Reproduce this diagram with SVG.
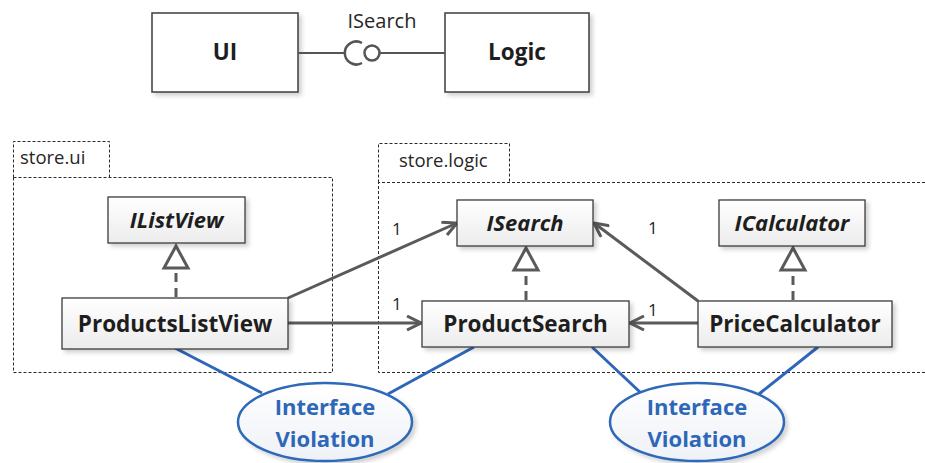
<svg xmlns="http://www.w3.org/2000/svg" width="925" height="463" viewBox="0 0 925 463">
  <style>
    .box { fill: url(#boxFill); stroke: #3c3c3c; stroke-width: 1.3; filter: url(#shadow); }
    .big { fill: #fff; stroke: #3c3c3c; stroke-width: 1.5; filter: url(#shadow); }
    .pkg { fill: none; stroke: #2a2a2a; stroke-width: 1; stroke-dasharray: 3 2; }
    .lbl { font-family: "Open Sans", "Liberation Sans", sans-serif; fill: #262626; }
    .name { font-family: "Open Sans", "Liberation Sans", sans-serif; font-weight: bold; fill: #1e1e1e; text-anchor: middle; font-size: 22.5px; }
    .iface { font-style: italic; font-size: 22px; }
    .assoc { fill: none; stroke: #5a5a5a; stroke-width: 3; }
    .real { fill: none; stroke: #5a5a5a; stroke-width: 3; stroke-dasharray: 9 6; }
    .tri { fill: #fff; stroke: #5a5a5a; stroke-width: 3; stroke-linejoin: miter; }
    .note { stroke: #2f67b8; stroke-width: 3; fill: none; }
    .bubble { fill: url(#noteFill); stroke: #2f67b8; stroke-width: 2.5; filter: url(#shadow); }
    .noteText { font-family: "Open Sans", "Liberation Sans", sans-serif; font-weight: bold; fill: #2f67b8; text-anchor: middle; font-size: 22px; }
  </style>
  <defs>
    <linearGradient id="boxFill" x1="0" y1="0" x2="0" y2="1">
      <stop offset="0" stop-color="#ffffff"/>
      <stop offset="1" stop-color="#ececec"/>
    </linearGradient>
    <linearGradient id="noteFill" x1="0" y1="0" x2="0" y2="1">
      <stop offset="0" stop-color="#ffffff"/>
      <stop offset="1" stop-color="#eef1f6"/>
    </linearGradient>
    <filter id="shadow" x="-10%" y="-10%" width="125%" height="135%">
      <feDropShadow dx="3" dy="3" stdDeviation="2" flood-color="#000" flood-opacity="0.18"/>
    </filter>
    <marker id="open" viewBox="0 0 16 16" refX="15" refY="8" markerWidth="16" markerHeight="16" markerUnits="userSpaceOnUse" orient="auto">
      <path d="M1 1 L15 8 L1 15" fill="none" stroke="#5a5a5a" stroke-width="3"/>
    </marker>
  </defs>

  <!-- component view -->
  <g id="UI">
    <rect class="big" x="152" y="13" width="146" height="79"/>
    <text class="name" x="225" y="60">UI</text>
  </g>
  <g id="Logic">
    <rect class="big" x="445" y="13" width="144" height="79"/>
    <text class="name" x="517" y="60">Logic</text>
  </g>
  <g id="ISearchLollipop">
    <line x1="298" y1="53" x2="346" y2="53" stroke="#555" stroke-width="2"/>
    <path d="M 362 43 A 11.5 11.5 0 1 0 362 63" fill="none" stroke="#555" stroke-width="2.5"/>
    <circle cx="372" cy="53" r="7.5" fill="#fff" stroke="#555" stroke-width="2.5"/>
    <line x1="379.5" y1="53" x2="445" y2="53" stroke="#555" stroke-width="2"/>
    <text class="lbl" x="382" y="28" font-size="20" text-anchor="middle">ISearch</text>
  </g>

  <!-- packages (half-pixel aligned so the dashes stay crisp) -->
  <g id="store.ui">
    <path class="pkg" d="M13.5 177.5 V141.5 H109.5 V177.5"/>
    <rect class="pkg" x="13.5" y="177.5" width="319" height="195"/>
    <text class="lbl" x="20" y="164" font-size="18.5">store.ui</text>
  </g>
  <g id="store.logic">
    <path class="pkg" d="M378.5 182.5 V143.5 H509.5 V182.5"/>
    <path class="pkg" d="M925 182.5 H378.5 V372.5 H925"/>
    <text class="lbl" x="399" y="167" font-size="18.5">store.logic</text>
  </g>

  <!-- connectors -->
  <g id="connectors">
    <path class="real" d="M176 297 V269"/>
    <path class="tri" d="M176 246 L164 268 H188 Z"/>
    <path class="real" d="M526 300 V270"/>
    <path class="tri" d="M526 248 L514 270 H538 Z"/>
    <path class="real" d="M793 300 V270"/>
    <path class="tri" d="M793 248 L781 270 H805 Z"/>

    <line class="assoc" x1="288" y1="298" x2="457" y2="223" marker-end="url(#open)"/>
    <line class="assoc" x1="288" y1="323" x2="421" y2="323" marker-end="url(#open)"/>
    <line class="assoc" x1="698" y1="301" x2="594" y2="223" marker-end="url(#open)"/>
    <line class="assoc" x1="698" y1="323" x2="630" y2="323" marker-end="url(#open)"/>
    <text class="lbl" x="392" y="235" font-size="17">1</text>
    <text class="lbl" x="392" y="310" font-size="17">1</text>
    <text class="lbl" x="648" y="234" font-size="17">1</text>
    <text class="lbl" x="648" y="316" font-size="17">1</text>

    <line class="note" x1="175" y1="348" x2="262" y2="393"/>
    <line class="note" x1="474" y1="347" x2="388" y2="394"/>
    <line class="note" x1="592" y1="347" x2="641" y2="393"/>
    <line class="note" x1="818" y1="347" x2="759" y2="394"/>
  </g>

  <!-- classes -->
  <g id="IListView">
    <rect class="box" x="108" y="197" width="137" height="46"/>
    <text class="name iface" x="176.5" y="228">IListView</text>
  </g>
  <g id="ProductsListView">
    <rect class="box" x="62" y="298" width="226" height="51"/>
    <text class="name" x="175" y="332">ProductsListView</text>
  </g>
  <g id="ISearch">
    <rect class="box" x="457" y="200" width="136" height="46"/>
    <text class="name iface" x="525" y="231">ISearch</text>
  </g>
  <g id="ICalculator">
    <rect class="box" x="719" y="200" width="146" height="46"/>
    <text class="name iface" x="792" y="231">ICalculator</text>
  </g>
  <g id="ProductSearch">
    <rect class="box" x="422" y="301" width="207" height="46"/>
    <text class="name" x="525.5" y="332">ProductSearch</text>
  </g>
  <g id="PriceCalculator">
    <rect class="box" x="698" y="301" width="194" height="46"/>
    <text class="name" x="795" y="332">PriceCalculator</text>
  </g>

  <!-- notes -->
  <g id="note1">
    <ellipse class="bubble" cx="325" cy="422" rx="87" ry="39"/>
    <text class="noteText" x="325" y="415">Interface</text>
    <text class="noteText" x="325" y="447">Violation</text>
  </g>
  <g id="note2">
    <ellipse class="bubble" cx="697" cy="422" rx="87" ry="39"/>
    <text class="noteText" x="697" y="415">Interface</text>
    <text class="noteText" x="697" y="447">Violation</text>
  </g>
</svg>
